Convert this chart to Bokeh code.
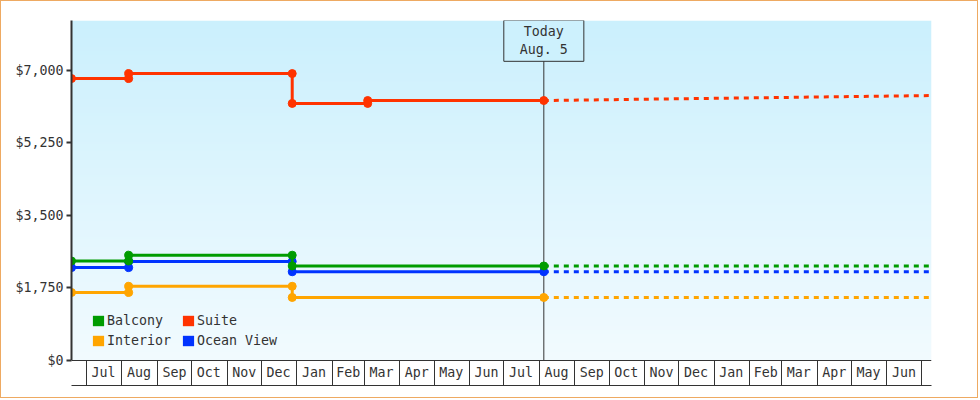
import numpy as np
import pandas as pd
from bokeh.plotting import figure
from bokeh.models import (Range1d, FixedTicker, LinearAxis, NumeralTickFormatter,
                          Label, Legend, LegendItem)
from bokeh.embed import file_html
from bokeh.resources import INLINE

# ---------------- data ----------------
range_start = "2016-06-18"
range_end = "2018-07-10"
today = "2017-08-05"
today_text = "Today\nAug. 5"

series_names = ["Balcony", "Suite", "Interior", "Ocean View"]
series_colors = ["#009c00", "#ff3300", "#ffa500", "#0033ff"]

balcony_dates = ["2016-06-18", "2016-08-07", "2016-08-07", "2016-12-28", "2016-12-28", "2017-08-05"]
balcony_values = [2400, 2400, 2540, 2540, 2280, 2280]

suite_dates = ["2016-06-18", "2016-08-07", "2016-08-07", "2016-12-28", "2016-12-28",
               "2017-03-04", "2017-03-04", "2017-08-05"]
suite_values = [6800, 6800, 6920, 6920, 6200, 6200, 6270, 6270]

interior_dates = ["2016-06-18", "2016-08-07", "2016-08-07", "2016-12-28", "2016-12-28", "2017-08-05"]
interior_values = [1640, 1640, 1790, 1790, 1520, 1520]

ocean_dates = ["2016-06-18", "2016-08-07", "2016-08-07", "2016-12-28", "2016-12-28", "2017-08-05"]
ocean_values = [2240, 2240, 2390, 2390, 2140, 2140]

forecast_dates = ["2017-08-05", "2018-07-10"]
balcony_forecast = [2280, 2280]
suite_forecast = [6270, 6390]
interior_forecast = [1520, 1520]
ocean_forecast = [2140, 2140]

month_labels = ["Jul", "Aug", "Sep", "Oct", "Nov", "Dec", "Jan", "Feb", "Mar", "Apr", "May", "Jun",
                "Jul", "Aug", "Sep", "Oct", "Nov", "Dec", "Jan", "Feb", "Mar", "Apr", "May", "Jun"]
month_bounds = [str(d.date()) for d in pd.date_range("2016-07-01", "2018-07-01", freq="MS")]

y_ticks = [0, 1750, 3500, 5250, 7000]
y_max = 8200
y_cells = -603   # depth of the month-cell strip below $0 (in value units)
today_box_y = 7710

# ---------------- helpers ----------------
EPOCH = pd.Timestamp("1970-01-01")


def day(d):
    return (pd.Timestamp(d) - EPOCH).days


def days(ds):
    return [day(d) for d in ds]


FONT = "DejaVu Sans Mono"
FS = "13.3px"
INK = "#333333"

x0, x1 = day(range_start), day(range_end)

p = figure(width=978, height=398, output_backend="svg", toolbar_location=None,
           x_range=Range1d(x0, x1), y_range=Range1d(y_cells, y_max),
           min_border_left=70, min_border_right=48, min_border_top=19, min_border_bottom=14)
p.styles = {"border": "1px solid #eeaa62"}
p.outline_line_color = None
p.background_fill_color = "white"
p.border_fill_color = "white"
p.xgrid.visible = False
p.ygrid.visible = False

# background gradient (styling only)
top_rgb = np.array([203, 240, 253], dtype=float)
bot_rgb = np.array([242, 251, 255], dtype=float)
n = 340
t = np.linspace(0, 1, n)[:, None]
rgb = bot_rgb + (top_rgb - bot_rgb) * t
img = np.zeros((n, 1), dtype=np.uint32)
view = img.view(dtype=np.uint8).reshape((n, 1, 4))
view[:, 0, 0] = rgb[:, 0]
view[:, 0, 1] = rgb[:, 1]
view[:, 0, 2] = rgb[:, 2]
view[:, 0, 3] = 255
p.image_rgba(image=[img], x=x0, y=0, dw=x1 - x0, dh=y_max, level="image")

# today marker line
p.segment(x0=[day(today)], y0=[0], x1=[day(today)], y1=[y_max], line_color=INK, line_width=1)

hist = {
    "Balcony": (balcony_dates, balcony_values, balcony_forecast),
    "Suite": (suite_dates, suite_values, suite_forecast),
    "Interior": (interior_dates, interior_values, interior_forecast),
    "Ocean View": (ocean_dates, ocean_values, ocean_forecast),
}
color_of = dict(zip(series_names, series_colors))

for name in ["Interior", "Ocean View", "Balcony", "Suite"]:
    ds, vs, fc = hist[name]
    c = color_of[name]
    p.line(days(forecast_dates), fc, line_color=c, line_width=3, line_dash="5 5")
    p.line(days(ds), vs, line_color=c, line_width=3)
    p.scatter(days(ds), vs, marker="circle", size=8, fill_color=c, line_color=c)

# legend swatches (hidden square renderers, only drawn in the legend)
items = []
for name in series_names:
    ds, vs, fc = hist[name]
    r = p.quad(left=[day(ds[0])], right=[day(ds[0])], top=[vs[0]], bottom=[vs[0]],
               fill_color=color_of[name], line_color=None, visible=False)
    items.append(LegendItem(label=name, renderers=[r]))
legend = Legend(items=items, location=(20, 37), orientation="horizontal", ncols=2,
                glyph_width=14, glyph_height=13, label_standoff=2, label_width=70,
                label_height=16, spacing=4, padding=0, margin=0,
                border_line_color=None, background_fill_alpha=0,
                inactive_fill_alpha=0,
                label_text_font=FONT, label_text_font_size=FS, label_text_color=INK)
p.add_layout(legend)

# today box
p.add_layout(Label(x=day(today), y=today_box_y, text=today_text, text_align="center",
                   text_baseline="middle", text_font=FONT, text_font_size=FS,
                   text_color=INK, background_fill_color="#cdf1fd",
                   border_line_color=INK, border_line_width=1, padding=(16, 16, 4, 4)))

# y axis
ya = p.yaxis[0]
ya.ticker = FixedTicker(ticks=y_ticks)
ya.bounds = (0, y_max)
ya.formatter = NumeralTickFormatter(format="$0,0")
ya.axis_line_color = INK
ya.axis_line_width = 2
ya.major_tick_line_color = INK
ya.major_tick_line_width = 2
ya.major_tick_out = 5
ya.major_tick_in = 0
ya.minor_tick_line_color = None
ya.major_label_standoff = 3
ya.major_label_text_font = FONT
ya.major_label_text_font_size = FS
ya.major_label_text_color = INK

# bottom edge of month strip = default x axis line only
xb = p.xaxis[0]
xb.ticker = FixedTicker(ticks=[])
xb.axis_line_color = INK
xb.axis_line_width = 1
xb.major_tick_line_color = None
xb.minor_tick_line_color = None
xb.major_tick_out = 0
xb.minor_tick_out = 0
xb.major_label_text_font_size = "0px"

# month cells axis at $0
bounds = days(month_bounds)
mids = [a + (b - a) // 2 for a, b in zip(bounds[:-1], bounds[1:])]
xa = LinearAxis(fixed_location=0)
xa.ticker = FixedTicker(ticks=mids, minor_ticks=bounds)
xa.major_label_overrides = {m: lab for m, lab in zip(mids, month_labels)}
xa.axis_line_color = INK
xa.axis_line_width = 1
xa.major_tick_line_color = None
xa.major_tick_out = 0
xa.major_tick_in = 0
xa.minor_tick_line_color = INK
xa.minor_tick_line_width = 1
xa.minor_tick_out = 25
xa.minor_tick_in = 0
xa.major_label_standoff = -20
xa.major_label_text_font = FONT
xa.major_label_text_font_size = FS
xa.major_label_text_color = INK
p.add_layout(xa, "below")

html = file_html(p, INLINE)
html = html.replace("<head>", "<head><style>html,body{margin:0;padding:0;}</style>", 1)
open("out.html", "w").write(html)
